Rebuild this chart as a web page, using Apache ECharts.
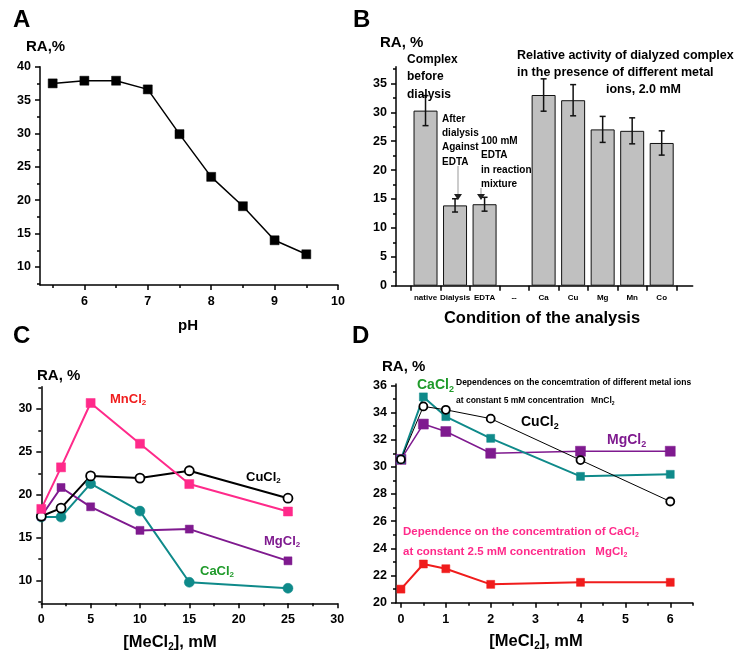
<!doctype html>
<html>
<head>
<meta charset="utf-8">
<title>RA panels</title>
<script src="https://cdn.jsdelivr.net/npm/echarts@6.0.0/dist/echarts.min.js"></script>
<style>
  html, body { margin: 0; padding: 0; background: #fff; }
  #chart { width: 753px; height: 659px; }
</style>
</head>
<body>
<div id="chart"></div>
<script>
// panel A - pH
var aPH = [5.5, 6, 6.5, 7, 7.5, 8, 8.5, 9, 9.5];
var aRA = [37.5, 37.9, 37.9, 36.6, 29.9, 23.5, 19.1, 14.0, 11.9];

// panel B - bars with error
var bNames = ['native', 'Dialysis', 'EDTA', '--', 'Ca', 'Cu', 'Mg', 'Mn', 'Co'];
var bRA = [30.3, 13.9, 14.1, null, 33.0, 32.1, 27.05, 26.8, 24.7];
var bErr = [2.6, 1.15, 1.2, null, 2.8, 2.7, 2.25, 2.25, 2.1];

// panel C - [MeCl2] 0..25 mM
var cConc = [0, 2, 5, 10, 15, 25];
var cMn = [18.35, 23.2, 30.7, 25.95, 21.25, 18.05];
var cCu = [17.5, 18.45, 22.2, 21.95, 22.8, 19.6];
var cMg = [17.5, 20.85, 18.6, 15.85, 16.0, 12.3];
var cCa = [17.4, 17.4, 21.3, 18.1, 9.8, 9.1];

// panel D - [MeCl2] 0..6 mM
var dConc = [0, 0.5, 1, 2, 4, 6];
var dCa = [30.55, 35.15, 33.7, 32.1, 29.3, 29.45];
var dCu = [30.55, 34.45, 34.2, 33.55, 30.5, 27.45];
var dMg = [30.55, 33.15, 32.6, 31.0, 31.15, 31.15];
var dCaMg = [21.0, 22.85, 22.5, 21.35, 21.5, 21.5];

// tick positions
var aXMajor = [6, 7, 8, 9, 10], aXMinor = [5.5, 6.5, 7.5, 8.5, 9.5];
var aYMajor = [10, 15, 20, 25, 30, 35, 40], aYMinor = [7.5, 12.5, 17.5, 22.5, 27.5, 32.5, 37.5];
var bXLabels = [1, 2, 3, 4, 5, 6, 7, 8, 9], bXTicks = [0.5, 1.5, 2.5, 3.5, 4.5, 5.5, 6.5, 7.5, 8.5, 9.5];
var bYMajor = [0, 5, 10, 15, 20, 25, 30, 35], bYMinor = [2.5, 7.5, 12.5, 17.5, 22.5, 27.5, 32.5, 37.5];
var cXMajor = [0, 5, 10, 15, 20, 25, 30], cXMinor = [2.5, 7.5, 12.5, 17.5, 22.5, 27.5];
var cYMajor = [10, 15, 20, 25, 30], cYMinor = [7.5, 12.5, 17.5, 22.5, 27.5, 32.5];
var dXMajor = [0, 1, 2, 3, 4, 5, 6], dXMinor = [0.5, 1.5, 2.5, 3.5, 4.5, 5.5, 6.5];
var dYMajor = [20, 22, 24, 26, 28, 30, 32, 34, 36], dYMinor = [21, 23, 25, 27, 29, 31, 33, 35];

var FONT = '"Liberation Sans", Arial, sans-serif';

function pair(a, b) { return a.map(function (v, i) { return [v, b[i]]; }); }

// main axis + a shadow axis carrying the minor ticks
function axisPair(grid, pos, min, max, major, minor, labels, lab) {
    lab = lab || {};
    var line = { color: '#000', width: 1.5 };
    var main = {
        type: 'value', gridIndex: grid, position: pos, min: min, max: max, offset: 0,
        splitLine: { show: false },
        axisLine: { show: true, onZero: false, lineStyle: line },
        axisTick: { show: true, customValues: major, length: 5, lineStyle: line },
        axisLabel: {
            customValues: labels || major, color: '#000', fontFamily: FONT, fontWeight: 'bold',
            fontSize: lab.size || 12.5, margin: lab.margin || 8, formatter: lab.formatter
        }
    };
    var shadow = {
        type: 'value', gridIndex: grid, position: pos, min: min, max: max, offset: 0,
        splitLine: { show: false },
        axisLine: { show: false, onZero: false },
        axisTick: { show: minor.length > 0, customValues: minor, length: 3, lineStyle: line },
        axisLabel: { show: false }
    };
    return [main, shadow];
}

var xAxes = [].concat(
    axisPair(0, 'bottom', 5.3, 10, aXMajor, aXMinor, null, { margin: 10 }),
    axisPair(1, 'bottom', 0, 10.05, bXTicks, [], bXLabels, {
        size: 8, margin: 8, formatter: function (v) { return bNames[v - 1] || ''; } }),
    axisPair(2, 'bottom', 0, 30, cXMajor, cXMinor, null, { margin: 10 }),
    axisPair(3, 'bottom', -0.11, 6.5, dXMajor, dXMinor, null, { margin: 10 })
);
var yAxes = [].concat(
    axisPair(0, 'left', 7.3, 40, aYMajor, aYMinor, null, { margin: 9 }),
    axisPair(1, 'left', 0, 37.9, bYMajor, bYMinor, null, { margin: 9 }),
    axisPair(2, 'left', 7.35, 32.6, cYMajor, cYMinor, null, { margin: 9 }),
    axisPair(3, 'left', 20, 36.1, dYMajor, dYMinor, null, { margin: 9 })
);

function lineSeries(ax, data, color, width, symbol, size, hollow) {
    return {
        type: 'line', xAxisIndex: ax, yAxisIndex: ax, data: data, clip: false,
        symbol: symbol, symbolSize: size, showSymbol: true,
        lineStyle: { color: color, width: width },
        itemStyle: hollow ? { color: '#fff', borderColor: color, borderWidth: 1.8 }
                          : { color: color, borderColor: color, borderWidth: 0.5 },
        emphasis: { disabled: true }, animation: false
    };
}

var errData = [];
bRA.forEach(function (v, i) {
    if (v != null) errData.push([i + 1, v - bErr[i], v + bErr[i]]);
});

// text with real subscript "2" (written as ₂ in the source strings)
function txt(x, y, s, size, color, align) {
    var st = {
        fill: color || '#000', font: 'bold ' + size + 'px ' + FONT,
        textAlign: align || 'left', textVerticalAlign: 'middle'
    };
    if (s.indexOf('₂') >= 0) {
        var parts = s.split('₂');
        st.text = parts.map(function (p, i) {
            return (p ? '{m|' + p + '}' : '') + (i < parts.length - 1 ? '{s|2}' : '');
        }).join('');
        st.rich = {
            m: { fontFamily: FONT, fontWeight: 'bold', fontSize: size, lineHeight: Math.round(size * 1.25), fill: st.fill },
            s: { fontFamily: FONT, fontWeight: 'bold', fontSize: Math.round(size * 0.62), lineHeight: Math.round(size * 0.62),
                 verticalAlign: 'bottom', fill: st.fill }
        };
    } else {
        st.text = s;
    }
    return { type: 'text', x: x, y: y, z: 100, style: st };
}
function arrow(x, y1, y2) {
    return [
        { type: 'line', z: 90, shape: { x1: x, y1: y1, x2: x, y2: y2 - 3 }, style: { stroke: '#999', lineWidth: 1 } },
        { type: 'polygon', z: 91, shape: { points: [[x - 4, y2 - 6], [x + 4, y2 - 6], [x, y2]] }, style: { fill: '#222' } }
    ];
}

var PINK = '#ff2a8a', TEAL = '#0f8a8a', PURPLE = '#7f1a8f', GREEN = '#1f9a2a', RED = '#f01c1c';

var graphics = [
    txt(13, 20, 'A', 24), txt(353, 20, 'B', 24), txt(13, 336, 'C', 24), txt(352, 336, 'D', 24),
    txt(26, 47, 'RA,%', 15),
    txt(188, 326, 'pH', 15, '#000', 'center'),
    txt(380, 43, 'RA, %', 15),
    txt(407, 60, 'Complex', 12), txt(407, 77, 'before', 12), txt(407, 95, 'dialysis', 12),
    txt(442, 119, 'After', 10), txt(442, 133, 'dialysis', 10), txt(442, 147, 'Against', 10), txt(442, 162, 'EDTA', 10),
    txt(481, 141, '100 mM', 10), txt(481, 155, 'EDTA', 10), txt(481, 170, 'in reaction', 10), txt(481, 184, 'mixture', 10),
    txt(517, 56, 'Relative activity of dialyzed complex', 12.5),
    txt(517, 73, 'in the presence of different metal', 12.5),
    txt(606, 90, 'ions, 2.0 mM', 12.5),
    txt(542, 318, 'Condition of the analysis', 16.5, '#000', 'center'),
    txt(37, 376, 'RA, %', 15),
    txt(110, 399, 'MnCl₂', 13, RED),
    txt(246, 477, 'CuCl₂', 13, '#000'),
    txt(264, 541, 'MgCl₂', 13, PURPLE),
    txt(200, 571, 'CaCl₂', 13, GREEN),
    txt(170, 642, '[MeCl₂], mM', 16.5, '#000', 'center'),
    txt(382, 367, 'RA, %', 15),
    txt(417, 385, 'CaCl₂', 14, GREEN),
    txt(456, 383, 'Dependences on the concemtration of different metal ions', 8.5),
    txt(456, 401, 'at constant 5 mM concentration   MnCl₂', 8.5),
    txt(521, 422, 'CuCl₂', 14, '#000'),
    txt(607, 440, 'MgCl₂', 14, PURPLE),
    txt(403, 532, 'Dependence on the concemtration of CaCl₂', 11.5, PINK),
    txt(403, 552, 'at constant 2.5 mM concentration   MgCl₂', 11.5, PINK),
    txt(536, 641, '[MeCl₂], mM', 16.5, '#000', 'center')
].concat(arrow(458, 166, 200), arrow(481, 188, 200));

var option = {
    animation: false,
    backgroundColor: '#fff',
    grid: [
        { left: 40, top: 66.7, width: 298, height: 218.3, outerBoundsMode: 'none' },
        { left: 396, top: 66.7, width: 296.7, height: 219, outerBoundsMode: 'none' },
        { left: 41.3, top: 386.7, width: 296, height: 216.6, outerBoundsMode: 'none' },
        { left: 396, top: 384, width: 296.7, height: 218.7, outerBoundsMode: 'none' }
    ],
    xAxis: xAxes,
    yAxis: yAxes,
    series: [
        lineSeries(0, pair(aPH, aRA), '#000', 1.5, 'rect', 9),
        {
            type: 'bar', xAxisIndex: 2, yAxisIndex: 2, barWidth: 24,
            data: bRA.map(function (v, i) { return [i + 1, v]; }),
            itemStyle: { color: '#c0c0c0', borderColor: '#111', borderWidth: 1 },
            emphasis: { disabled: true }
        },
        {
            type: 'custom', xAxisIndex: 2, yAxisIndex: 2, data: errData, z: 5,
            renderItem: function (params, api) {
                var lo = api.coord([api.value(0), api.value(1)]);
                var hi = api.coord([api.value(0), api.value(2)]);
                var st = { stroke: '#111', lineWidth: 1.5 };
                return {
                    type: 'group', children: [
                        { type: 'line', shape: { x1: lo[0], y1: lo[1], x2: hi[0], y2: hi[1] }, style: st },
                        { type: 'line', shape: { x1: lo[0] - 3, y1: lo[1], x2: lo[0] + 3, y2: lo[1] }, style: st },
                        { type: 'line', shape: { x1: hi[0] - 3, y1: hi[1], x2: hi[0] + 3, y2: hi[1] }, style: st }
                    ]
                };
            }
        },
        lineSeries(4, pair(cConc, cCa), TEAL, 2, 'circle', 10),
        lineSeries(4, pair(cConc, cMg), PURPLE, 2, 'rect', 8),
        lineSeries(4, pair(cConc, cCu), '#000', 2, 'circle', 9, true),
        lineSeries(4, pair(cConc, cMn), PINK, 2, 'rect', 9),
        lineSeries(6, pair(dConc, dCaMg), RED, 2, 'rect', 8),
        lineSeries(6, pair(dConc, dMg), PURPLE, 1.5, 'rect', 10),
        lineSeries(6, pair(dConc, dCa), TEAL, 2, 'rect', 8),
        lineSeries(6, pair(dConc, dCu), '#000', 1, 'circle', 8, true)
    ],
    graphic: graphics
};

var myChart = echarts.init(document.getElementById('chart'));
myChart.setOption(option);
</script>
</body>
</html>
